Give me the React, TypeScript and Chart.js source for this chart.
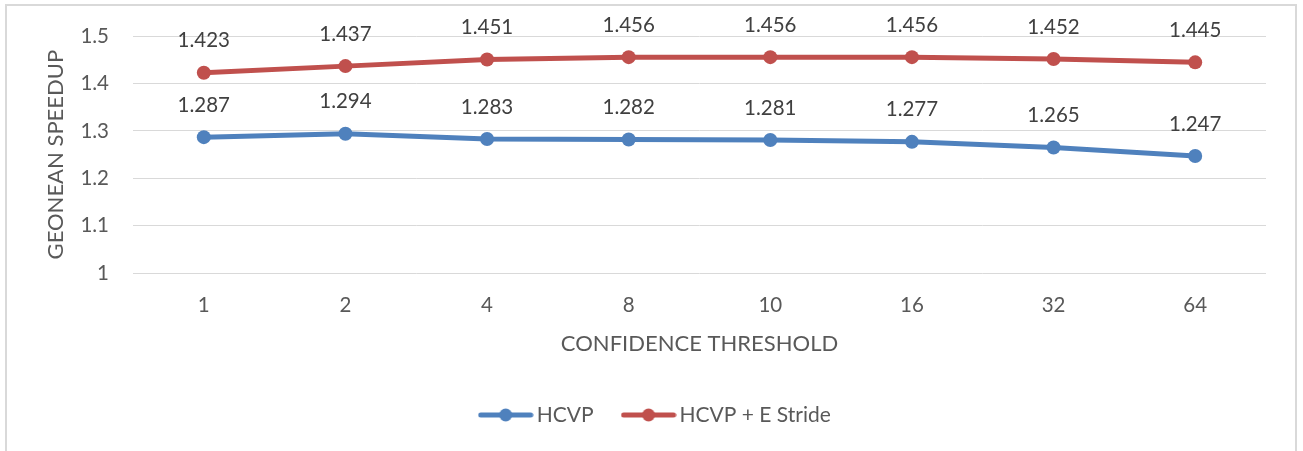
import React, { useEffect, useRef } from "react";
import { Chart, registerables } from "chart.js";

Chart.register(...registerables);

const categories: string[] = ["1", "2", "4", "8", "10", "16", "32", "64"];
const hcvp: number[] = [1.287, 1.294, 1.283, 1.282, 1.281, 1.277, 1.265, 1.247];
const hcvpStride: number[] = [1.423, 1.437, 1.451, 1.456, 1.456, 1.456, 1.452, 1.445];
const seriesNames: string[] = ["HCVP", "HCVP + E Stride"];
const yMin = 1;
const yMax = 1.5;
const yStep = 0.1;

const BLUE = "#4f81bd";
const RED = "#c0504d";
const FONT = "Lato, 'Open Sans', sans-serif";

function legendIcon(color: string): HTMLCanvasElement {
  const c = document.createElement("canvas");
  c.width = 56;
  c.height = 16;
  const g = c.getContext("2d")!;
  g.strokeStyle = color;
  g.lineWidth = 5;
  g.lineCap = "round";
  g.beginPath();
  g.moveTo(3, 8);
  g.lineTo(53, 8);
  g.stroke();
  g.fillStyle = color;
  g.beginPath();
  g.arc(28, 8, 6.5, 0, Math.PI * 2);
  g.fill();
  return c;
}

const pointLabels = {
  id: "pointLabels",
  afterDatasetsDraw(chart: any) {
    const ctx = chart.ctx;
    ctx.save();
    ctx.font = `20.5px ${FONT}`;
    ctx.fillStyle = "#404040";
    ctx.textAlign = "center";
    ctx.textBaseline = "middle";
    chart.data.datasets.forEach((ds: any, i: number) => {
      const meta = chart.getDatasetMeta(i);
      meta.data.forEach((pt: any, j: number) => {
        ctx.fillText(Number(ds.data[j]).toFixed(3), pt.x, pt.y - 32);
      });
    });
    ctx.restore();
  },
};

const legendShift = {
  id: "legendShift",
  afterLayout(chart: any) {
    if (chart.legend) {
      chart.legend.left += 25;
      chart.legend.right += 25;
    }
  },
};

export default function App() {
  const ref = useRef<HTMLCanvasElement>(null);
  useEffect(() => {
    let chart: Chart | null = null;
    let cancelled = false;
    const make = () => {
      if (cancelled || !ref.current) return;
      const icons = [legendIcon(BLUE), legendIcon(RED)];
      chart = new Chart(ref.current, {
        type: "line",
        data: {
          labels: categories,
          datasets: [
            {
              label: seriesNames[0],
              data: hcvp,
              borderColor: BLUE,
              backgroundColor: BLUE,
              borderWidth: 5,
              pointRadius: 7,
              pointBorderWidth: 0,
              pointBackgroundColor: BLUE,
              tension: 0,
            },
            {
              label: seriesNames[1],
              data: hcvpStride,
              borderColor: RED,
              backgroundColor: RED,
              borderWidth: 5,
              pointRadius: 7,
              pointBorderWidth: 0,
              pointBackgroundColor: RED,
              tension: 0,
            },
          ],
        },
        options: {
          responsive: false,
          animation: false,
          layout: { padding: { left: 0, right: 37, top: 34, bottom: 15.5 } },
          scales: {
            x: {
              offset: true,
              grid: { display: false, drawTicks: false },
              border: { display: false },
              ticks: { color: "#595959", font: { family: FONT, size: 20.5 }, padding: 20 },
              title: {
                display: true,
                text: "CONFIDENCE THRESHOLD",
                color: "#595959",
                font: { family: FONT, size: 22 },
                padding: { top: 0, bottom: 13 },
              },
              afterFit: (s: any) => {
                s.height = 97;
              },
            },
            y: {
              min: yMin,
              max: yMax,
              grid: { color: "#d9d9d9", lineWidth: 1, drawTicks: false },
              border: { display: false },
              ticks: {
                stepSize: yStep,
                color: "#595959",
                font: { family: FONT, size: 20.5 },
                padding: 24,
                callback: (v: any) => String(Math.round(Number(v) * 10) / 10),
              },
              title: {
                display: true,
                text: "GEONEAN SPEEDUP",
                color: "#595959",
                font: { family: FONT, size: 22 },
                padding: { top: 43, bottom: 0 },
              },
              afterFit: (s: any) => {
                s.width = 133;
              },
            },
          },
          plugins: {
            tooltip: { enabled: false },
            legend: {
              position: "bottom",
              labels: {
                usePointStyle: true,
                pointStyleWidth: 41,
                padding: 34.5,
                color: "#595959",
                font: { family: FONT, size: 21 },
                generateLabels: (ch: any) =>
                  ch.data.datasets.map((ds: any, i: number) => ({
                    text: ds.label,
                    fillStyle: ds.borderColor,
                    strokeStyle: ds.borderColor,
                    lineWidth: 0,
                    pointStyle: icons[i],
                    hidden: false,
                    datasetIndex: i,
                    fontColor: "#595959",
                  })),
              },
            },
          },
        },
        plugins: [pointLabels, legendShift],
      });
    };
    const fontsReady = (document as any).fonts
      ? Promise.all([
          (document as any).fonts.load(`21px Lato`),
          (document as any).fonts.load(`22px Lato`),
        ]).catch(() => null)
      : Promise.resolve(null);
    fontsReady.then(make);
    return () => {
      cancelled = true;
      if (chart) chart.destroy();
    };
  }, []);

  return (
    <div style={{ position: "absolute", left: 0, top: 0, width: 1303, height: 451, background: "#fff", overflow: "hidden" }}>
      <div
        style={{
          position: "absolute",
          left: 5,
          top: 4,
          width: 1292,
          height: 520,
          boxSizing: "border-box",
          border: "2px solid #d9d9d9",
        }}
      />
      <canvas ref={ref} width={1303} height={451} style={{ position: "absolute", left: 0, top: 0, width: 1303, height: 451 }} />
    </div>
  );
}
